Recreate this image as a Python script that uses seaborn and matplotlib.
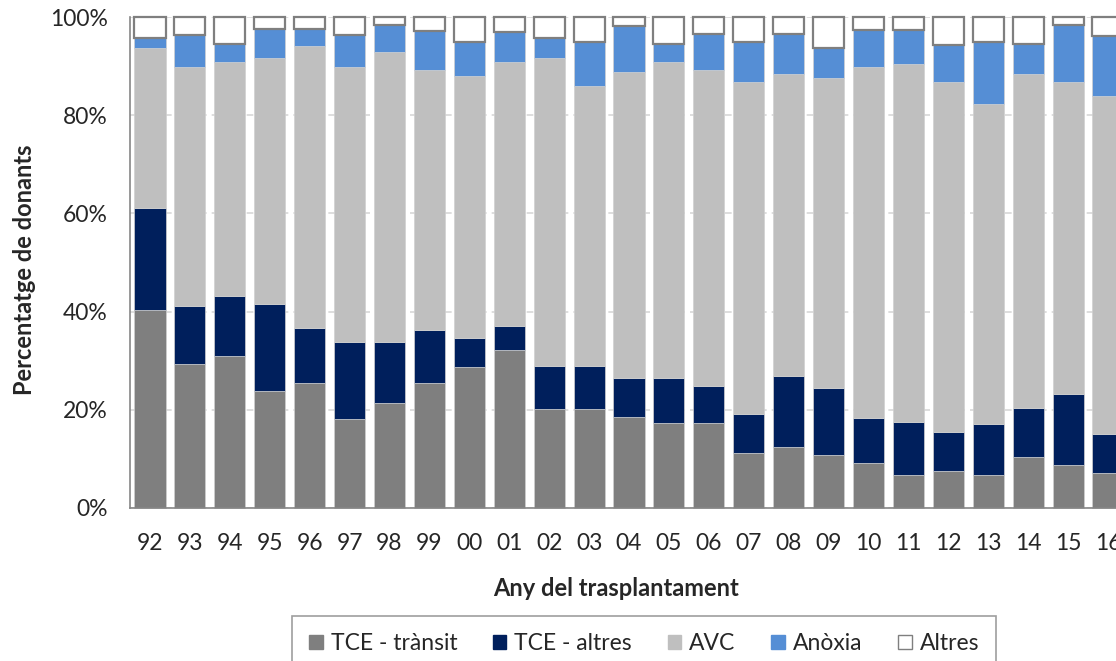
import numpy as np
import pandas as pd
import matplotlib
matplotlib.use("Agg")
import matplotlib.pyplot as plt
from matplotlib.patches import Patch
import seaborn as sns

# ==========================
# Data (percent of donors per year)
# ==========================
years = ["92", "93", "94", "95", "96", "97", "98", "99", "00", "01", "02", "03", "04",
         "05", "06", "07", "08", "09", "10", "11", "12", "13", "14", "15", "16"]

tce_transit = [40.4, 29.4, 31.0, 23.8, 25.4, 18.1, 21.3, 25.4, 28.7, 32.2, 20.1, 20.1, 18.5,
               17.3, 17.3, 11.1, 12.4, 10.7, 9.1, 6.7, 7.5, 6.7, 10.3, 8.7, 7.1]
tce_altres = [20.6, 11.8, 12.2, 17.8, 11.3, 15.7, 12.5, 10.9, 5.9, 4.8, 8.8, 8.8, 8.0,
              9.2, 7.5, 8.1, 14.4, 13.8, 9.2, 10.8, 8.0, 10.4, 10.1, 14.5, 8.0]
avc = [32.6, 48.7, 47.6, 50.0, 57.4, 56.1, 59.1, 52.9, 53.4, 53.8, 62.7, 57.0, 62.3,
       64.3, 64.4, 67.6, 61.6, 63.0, 71.6, 72.9, 71.3, 65.2, 68.0, 63.6, 68.8]
anoxia = [2.2, 6.4, 3.8, 5.9, 3.4, 6.4, 5.4, 7.9, 7.0, 6.2, 4.1, 9.0, 9.4,
          3.8, 7.3, 8.1, 8.2, 6.1, 7.5, 7.0, 7.4, 12.6, 6.2, 11.5, 12.2]
altres = [4.2, 3.7, 5.4, 2.5, 2.5, 3.7, 1.7, 2.9, 5.0, 3.0, 4.3, 5.1, 1.8,
          5.4, 3.5, 5.1, 3.4, 6.4, 2.6, 2.6, 5.8, 5.1, 5.4, 1.7, 3.9]

labels = ["TCE - trànsit", "TCE - altres", "AVC", "Anòxia", "Altres"]
colors = ["#7f7f7f", "#001f5c", "#bfbfbf", "#558ed5", "#ffffff"]

df = pd.DataFrame({"year": years, labels[0]: tce_transit, labels[1]: tce_altres,
                   labels[2]: avc, labels[3]: anoxia, labels[4]: altres})

# ==========================
# Figure
# ==========================
sns.set_style("white")
plt.rcParams["font.family"] = ["Lato", "DejaVu Sans"]

W, H = 1116, 661
fig = plt.figure(figsize=(W / 100, H / 100), dpi=100)
# plot area runs past the right edge, like the original (last bar is cut)
ax = fig.add_axes([130 / W, 153 / H, (1128 - 130) / W, (508 - 17) / H])

bottom = np.zeros(len(years))
for lab, col in zip(labels, colors):
    if lab == "Altres":
        edge, lw = "#7f7f7f", 1.6
    else:
        edge, lw = "#d0d0d0", 0.5
    sns.barplot(data=df, x="year", y=lab, order=years, color=col, width=0.78,
                bottom=bottom, edgecolor=edge, linewidth=lw, saturation=1,
                clip_on=False, zorder=3, ax=ax)
    bottom = bottom + df[lab].values

ax.set_xlim(-0.5, len(years) - 0.5)
ax.set_ylim(0, 100)

# y axis
ax.set_yticks(range(0, 101, 20))
ax.set_yticklabels([f"{v}%" for v in range(0, 101, 20)], fontsize=16.5)
ax.tick_params(axis="y", direction="out", length=5, width=1, color="#868686", pad=11)
ax.yaxis.grid(True, linestyle=(0, (4, 3)), color="#d8d8d8", linewidth=1.2, zorder=0)
ax.set_ylabel("")
fig.text(25 / W, 1 - 270 / H, "Percentatge de donants", ha="center", va="center",
         rotation=90, fontsize=17, fontweight="bold")

# x axis: tick marks between bars, labels centred on bars
ax.set_xticks(np.arange(-0.5, len(years), 1.0))
ax.set_xticklabels([])
ax.set_xticks(np.arange(len(years)), minor=True)
ax.set_xticklabels(years, minor=True, fontsize=16.5)
ax.tick_params(axis="x", which="major", direction="out", length=7, width=1, color="#868686")
ax.tick_params(axis="x", which="minor", length=0, pad=18)
ax.set_xlabel("")
fig.text(616 / W, 1 - 588 / H, "Any del trasplantament", ha="center", va="center",
         fontsize=17, fontweight="bold")

for s in ["top", "right"]:
    ax.spines[s].set_visible(False)
for s in ["left", "bottom"]:
    ax.spines[s].set_color("#868686")
    ax.spines[s].set_linewidth(1.2)
    ax.spines[s].set_zorder(4)

# legend (bottom of the box runs off the image, as in the original)
handles = [Patch(facecolor=c, edgecolor=("#7f7f7f" if l == "Altres" else c), label=l)
           for l, c in zip(labels, colors)]
leg = fig.legend(handles=handles, loc="upper center", bbox_to_anchor=(644 / W, 1 - 616 / H),
                 ncol=5, frameon=True, fancybox=False, fontsize=16.5, handlelength=0.6,
                 handleheight=0.6, handletextpad=0.35, columnspacing=1.55,
                 borderpad=0.75, borderaxespad=0, edgecolor="#868686")
leg.get_frame().set_linewidth(1.2)

fig.savefig("out.png", dpi=100)
